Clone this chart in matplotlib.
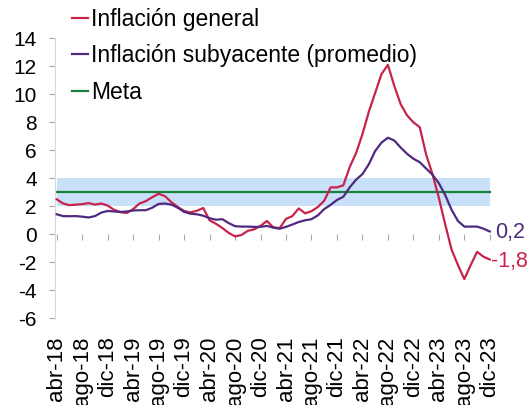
import numpy as np
import matplotlib.pyplot as plt

plt.rcParams['font.family'] = ['Liberation Sans', 'DejaVu Sans']
plt.rcParams['axes.unicode_minus'] = False

# meses desde abr-18 hasta dic-23 (69 observaciones)
etiquetas = ['abr-18', 'ago-18', 'dic-18', 'abr-19', 'ago-19', 'dic-19',
             'abr-20', 'ago-20', 'dic-20', 'abr-21', 'ago-21', 'dic-21',
             'abr-22', 'ago-22', 'dic-22', 'abr-23', 'ago-23', 'dic-23']

general = [2.5, 2.2, 2.08, 2.12, 2.15, 2.23, 2.12, 2.2, 2.05, 1.75,
           1.58, 1.52, 1.8, 2.2, 2.37, 2.65, 2.9, 2.72, 2.3, 1.95,
           1.67, 1.56, 1.68, 1.88, 1.0, 0.75, 0.45, 0.1, -0.15, -0.05,
           0.25, 0.35, 0.6, 0.95, 0.5, 0.44, 1.1, 1.3, 1.85, 1.5,
           1.65, 1.95, 2.4, 3.35, 3.35, 3.5, 4.8, 5.8, 7.15, 8.75,
           10.1, 11.45, 12.1, 10.6, 9.3, 8.5, 8.0, 7.65, 5.7, 4.3,
           2.6, 0.7, -1.1, -2.2, -3.2, -2.2, -1.25, -1.6, -1.8]

subyacente = [1.43, 1.3, 1.29, 1.3, 1.26, 1.2, 1.3, 1.55, 1.67, 1.63,
              1.6, 1.63, 1.7, 1.72, 1.72, 1.9, 2.17, 2.2, 2.12, 1.9,
              1.6, 1.47, 1.43, 1.33, 1.15, 1.04, 1.08, 0.8, 0.58, 0.55,
              0.55, 0.53, 0.53, 0.6, 0.48, 0.4, 0.53, 0.7, 0.88, 1.0,
              1.08, 1.35, 1.8, 2.1, 2.45, 2.68, 3.35, 3.9, 4.3, 5.0,
              5.95, 6.55, 6.9, 6.7, 6.2, 5.75, 5.4, 5.15, 4.7, 4.25,
              3.65, 2.8, 1.75, 0.95, 0.55, 0.55, 0.55, 0.4, 0.2]

meta = 3
rango_meta = (2, 4)

c_gen = '#C9234B'
c_sub = '#4F2A80'
c_meta = '#17803D'
c_banda = '#C8E0F8'

x = np.arange(len(general))

fig = plt.figure(figsize=(5.3, 4.05), dpi=100)
ax = fig.add_axes([55 / 530, 1 - 318.3 / 405, 445 / 530, 280 / 405])

ax.fill_between(x, rango_meta[0], rango_meta[1], color=c_banda, lw=0, zorder=1)
l_meta, = ax.plot(x, np.full(len(x), meta), color=c_meta, lw=1.6, zorder=2, label='Meta')
l_gen, = ax.plot(x, general, color=c_gen, lw=1.6, zorder=3, label='Inflación general')
l_sub, = ax.plot(x, subyacente, color=c_sub, lw=1.6, zorder=3,
                 label='Inflación subyacente (promedio)')

# etiquetas del ultimo dato
ax.annotate(f'{subyacente[-1]:.1f}'.replace('.', ','), xy=(x[-1], subyacente[-1]),
            xytext=(4, -1), textcoords='offset points', va='center', ha='left',
            color=c_sub, fontsize=15.5, annotation_clip=False)
ax.annotate(f'{general[-1]:.1f}'.replace('.', ','), xy=(x[-1], general[-1]),
            xytext=(1, -1.5), textcoords='offset points', va='center', ha='left',
            color=c_gen, fontsize=15.5, annotation_clip=False)

ax.set_xlim(-0.27, 69.6)
ax.set_ylim(-6, 14)
ax.set_yticks(range(-6, 15, 2))

for s in ['top', 'right']:
    ax.spines[s].set_visible(False)
ax.spines['left'].set_color('#D9D9D9')
ax.spines['bottom'].set_position(('data', 0))
ax.spines['bottom'].set_visible(False)

ax.set_xticks(x[::4])
ax.tick_params(axis='x', length=4, color='#A6A6A6', direction='out', labelbottom=False)
ax.tick_params(axis='y', length=4, color='#A6A6A6', pad=9, labelsize=15)

sec = ax.secondary_xaxis('bottom')
sec.set_xticks(x[::4], labels=etiquetas)
sec.tick_params(length=0, pad=13, labelsize=16, labelrotation=90)
sec.spines['bottom'].set_visible(False)

ax.legend(handles=[l_gen, l_sub, l_meta], loc='upper left',
          bbox_to_anchor=(72 / 530, 1 - 8 / 405), bbox_transform=fig.transFigure,
          frameon=False, fontsize=16.5, handlelength=0.7, handletextpad=0.15,
          borderpad=0, borderaxespad=0, labelspacing=0.58)

fig.savefig('out.png', dpi=100)
